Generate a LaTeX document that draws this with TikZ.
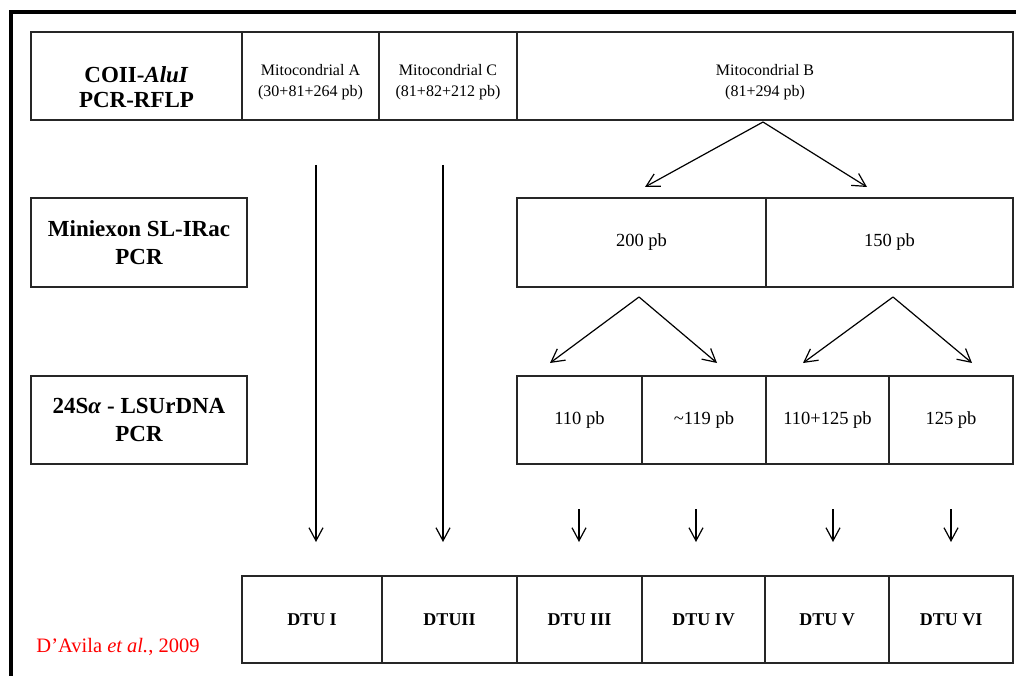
\documentclass[tikz,border=0pt]{standalone}
\usepackage{fontspec}
\setmainfont{Liberation Serif}
\usetikzlibrary{arrows.meta}
\begin{document}
\begin{tikzpicture}[x=1pt,y=-1pt,
  box/.style={draw=black!85, line width=1.3pt, inner sep=0pt, outer sep=0pt, align=center},
  lbl/.style={inner sep=0pt, align=center},
  small/.style={font=\fontsize{16}{21}\selectfont},
  mid/.style={font=\fontsize{18.5}{22}\selectfont},
  big/.style={font=\fontsize{23}{27.5}\selectfont\bfseries},
  bigA/.style={font=\fontsize{23}{25}\selectfont\bfseries},
  dtu/.style={font=\fontsize{18}{22}\selectfont\bfseries},
  arr/.style={-{Straight Barb[length=13pt,width=14pt]}, line width=1.2pt},
  frame/.style={line width=4pt}
]
\useasboundingbox (0,0) rectangle (1016,676);
% outer frame (top and left)
\coordinate (fBL) at (11,680);
\coordinate (fTL) at (11,11.7);
\coordinate (fTR) at (1020,11.7);
\draw[frame] (fBL) -- (fTL) -- (fTR);

% row 1
\node[box, minimum width=211pt, minimum height=88pt] (coii) at (136.5,76) {};
\node[box, minimum width=137pt, minimum height=88pt] (mitoA) at (310.5,76) {};
\node[box, minimum width=138pt, minimum height=88pt] (mitoC) at (448,76) {};
\node[box, minimum width=496pt, minimum height=88pt] (mitoB) at (765,76) {};
\node[lbl, bigA] (coiiT) at ([yshift=-11pt]coii.center) {COII-\textit{AluI}\\PCR-RFLP};
\node[lbl, small] (mitoAT) at ([yshift=-6pt]mitoA.center) {Mitocondrial A\\(30+81+264 pb)};
\node[lbl, small] (mitoCT) at ([yshift=-6pt]mitoC.center) {Mitocondrial C\\(81+82+212 pb)};
\node[lbl, small] (mitoBT) at ([yshift=-6pt]mitoB.center) {Mitocondrial B\\(81+294 pb)};

% row 2
\node[box, big, minimum width=216pt, minimum height=89pt] (mini) at (139,242.5) {Miniexon SL-IRac\\PCR};
\node[box, mid, minimum width=249pt, minimum height=89pt] (p200) at (641.5,242.5) {200 pb};
\node[box, mid, minimum width=247pt, minimum height=89pt] (p150) at (889.5,242.5) {150 pb};

% row 3
\node[box, big, minimum width=216pt, minimum height=88pt] (lsu) at (139,420) {24S\textit{α} - LSUrDNA\\PCR};
\node[box, mid, minimum width=125pt, minimum height=88pt] (p110) at (579.5,420) {110 pb};
\node[box, mid, minimum width=124pt, minimum height=88pt] (p119) at (704,420) {\textasciitilde119 pb};
\node[box, mid, minimum width=123pt, minimum height=88pt] (p235) at (827.5,420) {110+125 pb};
\node[box, mid, minimum width=124pt, minimum height=88pt] (p125) at (951,420) {125 pb};

% row 4
\node[box, dtu, minimum width=140pt, minimum height=87pt] (d1) at (312,619.5) {DTU I};
\node[box, dtu, minimum width=135pt, minimum height=87pt] (d2) at (449.5,619.5) {DTUII};
\node[box, dtu, minimum width=125pt, minimum height=87pt] (d3) at (579.5,619.5) {DTU III};
\node[box, dtu, minimum width=123pt, minimum height=87pt] (d4) at (703.5,619.5) {DTU IV};
\node[box, dtu, minimum width=124pt, minimum height=87pt] (d5) at (827,619.5) {DTU V};
\node[box, dtu, minimum width=124pt, minimum height=87pt] (d6) at (951,619.5) {DTU VI};

% citation
\node[font=\fontsize{20.5}{24}\selectfont, text=red, inner sep=0pt] (cite) at (118,647) {D’Avila \textit{et al.}, 2009};

% arrow coordinates
\coordinate (aA1) at (316,165);  \coordinate (aA2) at (316,542);
\coordinate (aC1) at (443,165);  \coordinate (aC2) at (443,542);
\coordinate (bApex) at (763,122);
\coordinate (bL) at (645,187);   \coordinate (bR) at (867,187);
\coordinate (cApex) at (639,297);
\coordinate (cL) at (550,363);   \coordinate (cR) at (717,363);
\coordinate (eApex) at (893,297);
\coordinate (eL) at (803,363);   \coordinate (eR) at (972,363);
\coordinate (s3a) at (579,509);  \coordinate (s3b) at (579,542);
\coordinate (s4a) at (696,509);  \coordinate (s4b) at (696,542);
\coordinate (s5a) at (833,509);  \coordinate (s5b) at (833,542);
\coordinate (s6a) at (951,509);  \coordinate (s6b) at (951,542);

\draw[arr] (aA1) -- (aA2);
\draw[arr] (aC1) -- (aC2);
\draw[arr] (bApex) -- (bL);
\draw[arr] (bApex) -- (bR);
\draw[arr] (cApex) -- (cL);
\draw[arr] (cApex) -- (cR);
\draw[arr] (eApex) -- (eL);
\draw[arr] (eApex) -- (eR);
\draw[arr] (s3a) -- (s3b);
\draw[arr] (s4a) -- (s4b);
\draw[arr] (s5a) -- (s5b);
\draw[arr] (s6a) -- (s6b);
\end{tikzpicture}
\end{document}
